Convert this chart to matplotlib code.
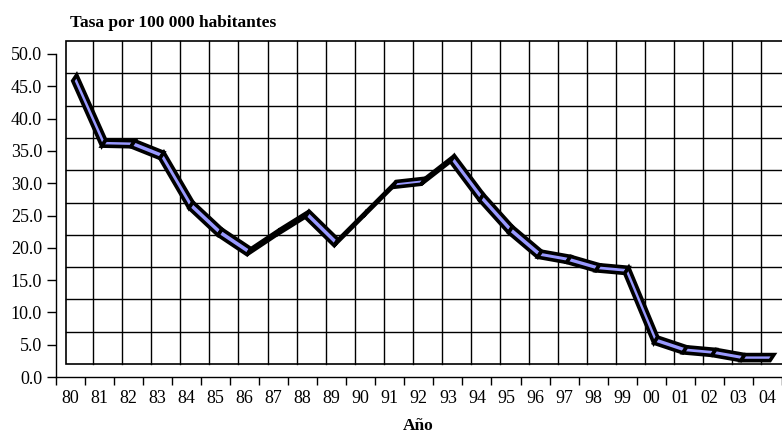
import numpy as np
import matplotlib.pyplot as plt
from matplotlib.patches import Polygon, Rectangle
from matplotlib.transforms import IdentityTransform

years = ['80', '81', '82', '83', '84', '85', '86', '87', '88', '89', '90', '91', '92',
         '93', '94', '95', '96', '97', '98', '99', '00', '01', '02', '03', '04']
tasa = [45.3, 35.2, 35.1, 33.3, 25.6, 21.4, 18.4, 21.4, 24.2, 19.8, 24.3, 28.8, 29.3,
        32.8, 26.8, 21.8, 18.0, 17.2, 15.9, 15.5, 4.7, 3.2, 2.8, 2.0, 2.0]
yticks = np.arange(0, 55, 5)

plt.rcParams['font.family'] = ['Liberation Serif', 'DejaVu Serif']

fig = plt.figure(figsize=(7.82, 4.33), dpi=100)
ax = fig.add_axes([0.0712, 0.1293, 0.9288, 0.746])
ax.set_facecolor('none')
n = len(years)
x = np.arange(n)
ax.set_xlim(-0.5, n - 0.5)
ax.set_ylim(0, 50)

# back wall (3d look, shifted up/right in pixels)
wdx, wdy = 10.5, 13.0
fig.canvas.draw()
td = ax.transData


def disp(xs, ys, dx, dy):
    p = td.transform(np.column_stack([xs, ys]))
    p[:, 0] += dx
    p[:, 1] += dy
    return p


ident = IdentityTransform()
wall = disp([-0.5, n - 0.5], [0, 50], wdx, wdy)
ax.add_patch(Rectangle(wall[0], wall[1, 0] - wall[0, 0], wall[1, 1] - wall[0, 1],
                       transform=ident, facecolor='white', edgecolor='black',
                       lw=1.2, clip_on=False, zorder=1))
for yv in yticks[1:-1]:
    p = disp([-0.5, n - 0.5], [yv, yv], wdx, wdy)
    ax.plot(p[:, 0], p[:, 1], color='black', lw=1.0, transform=ident,
            clip_on=False, zorder=2)
for k in range(1, n):
    p = disp([k - 0.5, k - 0.5], [0, 50], wdx - 2, wdy)
    ax.plot(p[:, 0], p[:, 1], color='black', lw=1.0, transform=ident,
            clip_on=False, zorder=2)

# ribbon line
front = disp(x, tasa, 2.5, 3.5)
back = disp(x, tasa, 6.5, 9.5)
for i in range(n - 1):
    quad = [front[i], front[i + 1], back[i + 1], back[i]]
    ax.add_patch(Polygon(quad, closed=True, transform=ident, facecolor='#9999FF',
                         edgecolor='black', lw=2.6, joinstyle='miter',
                         clip_on=False, zorder=3))

# front axes
for s in ['top', 'right']:
    ax.spines[s].set_visible(False)
for s in ['left', 'bottom']:
    ax.spines[s].set_linewidth(1.0)
ax.set_yticks(yticks)
ax.set_yticklabels([f'{v:.1f}' for v in yticks])
ax.set_xticks(np.arange(n + 1) - 0.5, minor=False)
ax.set_xticklabels([])
ax.set_xticks(x, minor=True)
ax.set_xticklabels(years, minor=True)
ax.tick_params(axis='y', which='major', length=6.3, width=1.0, pad=3.5, labelsize=13)
ax.tick_params(axis='x', which='major', length=6.0, width=1.0, direction='out')
ax.tick_params(axis='x', which='minor', length=0, pad=9.5, labelsize=13)

fig.text(0.0895, 0.9476, 'Tasa por 100 000 habitantes', fontsize=12.5,
         fontweight='bold', va='center', ha='left')
fig.text(0.535, 0.016, 'Año', fontsize=12.5, fontweight='bold', va='center', ha='center')

fig.savefig('out.png', dpi=100)
